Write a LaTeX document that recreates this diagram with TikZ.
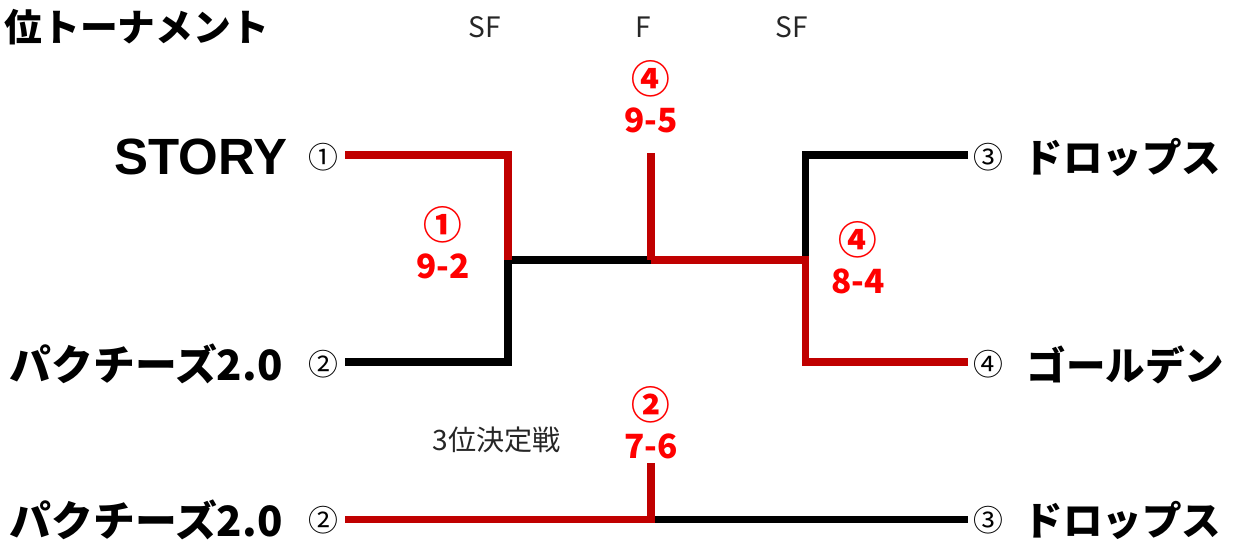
\documentclass[tikz,border=0pt]{standalone}
\usepackage{fontspec}
\setmainfont{Noto Sans CJK JP}
\newfontfamily\storyfont{Liberation Sans}
\definecolor{linered}{HTML}{C00000}
\definecolor{scorered}{HTML}{FF0000}

\begin{document}
\begin{tikzpicture}[x=0.02cm,y=-0.02cm,line width=4pt]
                \tikzstyle{team}=[inner sep=0pt,font=\fontsize{22.5}{24}\selectfont\bfseries]
                \tikzstyle{seed}=[inner sep=0pt,font=\fontsize{17}{18}\selectfont]
                \tikzstyle{rnd}=[inner sep=0pt,text=black!85,font=\fontsize{16}{18}\selectfont]
                \tikzstyle{score}=[inner sep=0pt,text=scorered,font=\fontsize{19}{20}\selectfont\bfseries]
                \tikzstyle{lost}=[draw=black]
                \tikzstyle{won}=[draw=linered]
                \useasboundingbox (0,0) rectangle (1236,542);

                \node[inner sep=0pt,anchor=west,font=\fontsize{21.5}{24}\selectfont\bfseries] (title) at (1,27) {位トーナメント};
                \foreach \num/\x/\txt in {SF-L/485/SF, F/643/F, SF-R/792/SF}
                        \node[rnd] (R-\num) at (\x,27) {\txt};

                % players
                \foreach \num/\y in {1/155, 2/362}
                        \coordinate (P-\num) at (345,\y);
                \foreach \num/\y in {3/155, 4/362}
                        \coordinate (P-\num) at (968,\y);
                \coordinate (Q-2) at (345,519);
                \coordinate (Q-3) at (968,519);
                \coordinate (J-L) at (508,260);
                \coordinate (J-R) at (805,260);
                \coordinate (J-F) at (651,260);
                \coordinate (W-F) at (651,153);
                \coordinate (J-Q) at (651,519);
                \coordinate (W-Q) at (651,463);

                \node[seed] (S-1) at (323,157) {①};
                \node[seed] (S-2) at (323,364) {②};
                \node[seed] (S-3) at (988,157) {③};
                \node[seed] (S-4) at (988,364) {④};
                \node[seed] (S-Q2) at (323,520) {②};
                \node[seed] (S-Q3) at (988,520) {③};

                \node[team,anchor=east,font=\fontsize{29}{30}\selectfont\bfseries\storyfont] (N-1) at (291,157) {STORY};
                \node[team,anchor=east,font=\fontsize{23.8}{25}\selectfont\bfseries] (N-2) at (286,364) {パクチーズ2.0};
                \node[team,anchor=west] (N-3) at (1020,157) {ドロップス};
                \node[team,anchor=west] (N-4) at (1023,365) {ゴールデン};
                \node[team,anchor=east,font=\fontsize{23.8}{25}\selectfont\bfseries] (N-Q2) at (286,520) {パクチーズ2.0};
                \node[team,anchor=west] (N-Q3) at (1020,520) {ドロップス};

                % bracket
                \draw[lost] (P-2) -- (P-2 -| J-L) -- (J-L) -- (J-F);
                \draw[lost] (P-3) -- (P-3 -| J-R) -- (J-R);
                \draw[lost] (J-Q) -- (Q-3);
                \draw[won] (P-1) -- (P-1 -| J-L) -- (J-L);
                \draw[won] (P-4) -- (P-4 -| J-R) -- (J-R) -- (J-F);
                \draw[won] (W-F) -- (J-F);
                \draw[won] (Q-2) -- (J-Q) -- (W-Q);

                \foreach \num/\x/\y/\mark/\res in {F/651/79/④/9-5, L/443/225/①/9-2, R/858/240/④/8-4, Q/651/405/②/7-6}
                {
                        \node[score,font=\fontsize{22}{24}\selectfont\bfseries] (M-\num) at (\x,\y) {\mark};
                        \node[score] (G-\num) at (\x,\y+41) {\res};
                }

                \node[rnd] (third) at (497,440) {3位決定戦};
\end{tikzpicture}
\end{document}
